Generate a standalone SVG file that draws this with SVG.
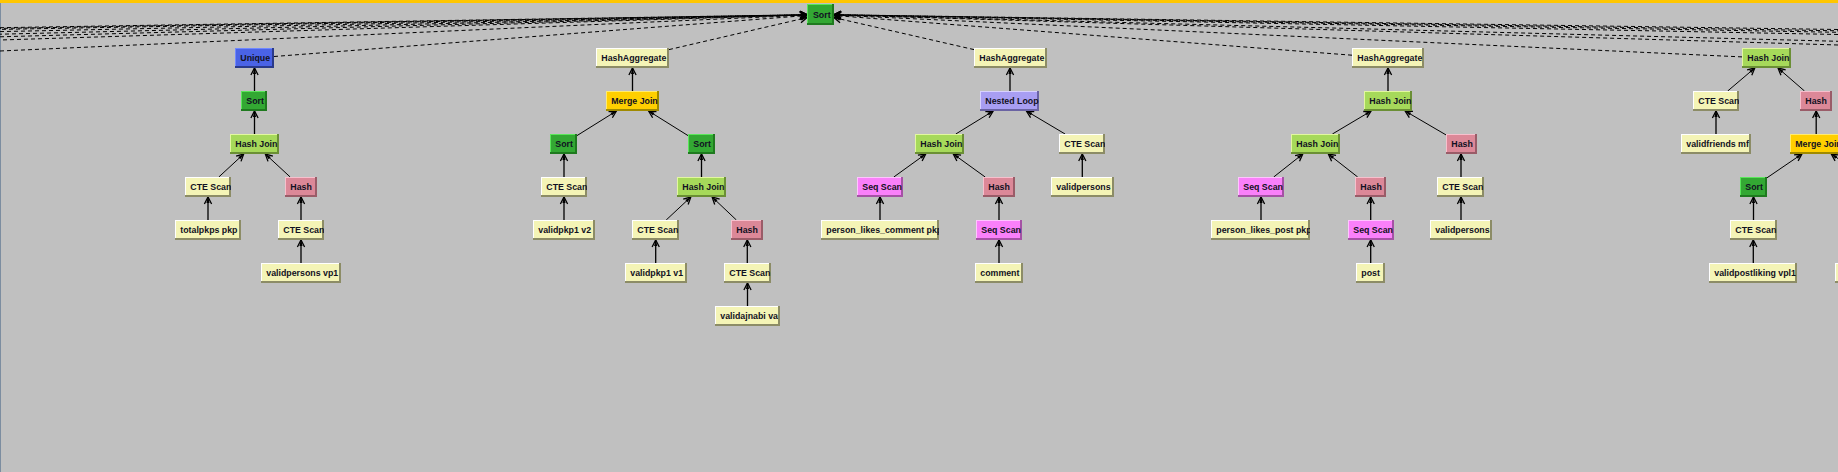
<svg xmlns="http://www.w3.org/2000/svg" width="1838" height="472" viewBox="0 0 1838 472">
<style>
text{font-family:"Liberation Sans",Arial,sans-serif;font-weight:bold;font-size:8.8px;fill:#111122}
.y .d{fill:#8c8c66}.y .l{fill:#ffffff}.y .f{fill:#f4f4b6}
.hj .d{fill:#6b8f35}.hj .l{fill:#e2f7a0}.hj .f{fill:#a6d95a}
.so .d{fill:#1f7a1f}.so .l{fill:#5ae65a}.so .f{fill:#33a833}
.un .d{fill:#2a3a8a}.un .l{fill:#7088ff}.un .f{fill:#4a63e6}
.ha .d{fill:#9a5c68}.ha .l{fill:#f7c0cd}.ha .f{fill:#dc8898}
.mj .d{fill:#a08a00}.mj .l{fill:#ffeb70}.mj .f{fill:#ffcf00}
.nl .d{fill:#6a63a3}.nl .l{fill:#d8d2ff}.nl .f{fill:#a89ef2}
.ss .d{fill:#a552a5}.ss .l{fill:#ffc4ff}.ss .f{fill:#fa80fa}
.e{stroke:#000;stroke-width:1.3;fill:none;marker-end:url(#ah)}
.g{stroke:#000;stroke-width:1;fill:none;marker-end:url(#ah)}
.r{stroke:#000;stroke-width:1;fill:none;stroke-dasharray:4 3;marker-end:url(#ah)}
</style>
<defs>
<marker id="ah" viewBox="-9 -5 10 10" refX="0" refY="0" markerWidth="10" markerHeight="10" markerUnits="userSpaceOnUse" orient="auto" overflow="visible">
<path d="M-7,-3.6 L0,0 L-7,3.6" fill="none" stroke="#000" stroke-width="1.3"/>
<path d="M-6,-1.6 L0,0 L-6,1.6 Z" fill="#000"/>
</marker>
</defs>
<rect x="0" y="0" width="1838" height="472" fill="#c0c0c0"/>
<rect x="0" y="0" width="1838" height="3" fill="#ffc600"/>
<rect x="0" y="3" width="1" height="469" fill="#7c8da0"/>

<g id="edges">
<!-- off-screen left children of root -->
<line class="r" x1="0" y1="27.7" x2="807" y2="14.7"/>
<line class="r" x1="0" y1="28.4" x2="807" y2="14.7" stroke-dashoffset="3"/>
<line class="r" x1="0" y1="29.4" x2="807" y2="14.8" stroke-dashoffset="5"/>
<line class="r" x1="0" y1="31.6" x2="807" y2="14.8"/>
<line class="r" x1="0" y1="34.2" x2="807" y2="14.8" stroke-dashoffset="2"/>
<line class="r" x1="0" y1="36.8" x2="807" y2="14.9"/>
<line class="r" x1="0" y1="40" x2="807" y2="14.9" stroke-dashoffset="4"/>
<line class="r" x1="0" y1="51" x2="807" y2="15.1"/>
<!-- off-screen right children of root -->
<line class="r" x1="1838" y1="29.5" x2="834" y2="14.7"/>
<line class="r" x1="1838" y1="30.8" x2="834" y2="14.7" stroke-dashoffset="3"/>
<line class="r" x1="1838" y1="32.3" x2="834" y2="14.7" stroke-dashoffset="5"/>
<line class="r" x1="1838" y1="34.5" x2="834" y2="14.8"/>
<line class="r" x1="1838" y1="41.3" x2="834" y2="14.9" stroke-dashoffset="2"/>
<line class="r" x1="1838" y1="45" x2="834" y2="14.9"/>
<!-- visible children of root -->
<line class="r" x1="274" y1="56.5" x2="807" y2="15.5"/>
<line class="r" x1="669" y1="49.6" x2="807" y2="17.6"/>
<line class="r" x1="974" y1="49.6" x2="834" y2="17.6"/>
<line class="r" x1="1352" y1="55.2" x2="834" y2="15.5"/>
<line class="r" x1="1742" y1="56.9" x2="834" y2="15.1"/>
<!-- tree 1 -->
<line class="e" x1="254.5" y1="91" x2="254.5" y2="68"/>
<line class="e" x1="254.5" y1="134" x2="254.5" y2="111"/>
<line class="g" x1="218.8" y1="177" x2="243.7" y2="154"/>
<line class="g" x1="290.2" y1="177" x2="265.3" y2="154"/>
<line class="e" x1="208" y1="220" x2="208" y2="197"/>
<line class="e" x1="301" y1="220" x2="301" y2="197"/>
<line class="e" x1="301" y1="263" x2="301" y2="240"/>
<!-- tree 2 -->
<line class="e" x1="632.5" y1="91" x2="632.5" y2="68"/>
<line class="g" x1="577" y1="135.6" x2="616.4" y2="111"/>
<line class="g" x1="688" y1="135.6" x2="648.6" y2="111"/>
<line class="e" x1="564" y1="177" x2="564" y2="154"/>
<line class="e" x1="701.5" y1="177" x2="701.5" y2="154"/>
<line class="e" x1="564" y1="220" x2="564" y2="197"/>
<line class="g" x1="666.2" y1="220" x2="690.8" y2="197"/>
<line class="g" x1="736.4" y1="220" x2="712.1" y2="197"/>
<line class="e" x1="655.7" y1="263" x2="655.7" y2="240"/>
<line class="e" x1="747.3" y1="263" x2="747.3" y2="240"/>
<line class="e" x1="747.5" y1="306" x2="747.5" y2="283"/>
<!-- tree 3 -->
<line class="e" x1="1010" y1="91" x2="1010" y2="68"/>
<line class="g" x1="955.8" y1="134" x2="993.2" y2="111"/>
<line class="g" x1="1065.1" y1="134" x2="1026.4" y2="111"/>
<line class="g" x1="893.8" y1="177" x2="925.7" y2="154"/>
<line class="g" x1="985.2" y1="177" x2="953.3" y2="154"/>
<line class="e" x1="1082.3" y1="177" x2="1082.3" y2="154"/>
<line class="e" x1="880" y1="220" x2="880" y2="197"/>
<line class="e" x1="999" y1="220" x2="999" y2="197"/>
<line class="e" x1="999" y1="263" x2="999" y2="240"/>
<!-- tree 4 -->
<line class="e" x1="1388" y1="91" x2="1388" y2="68"/>
<line class="g" x1="1332.4" y1="134" x2="1371.1" y2="111"/>
<line class="g" x1="1446" y1="134.9" x2="1405.1" y2="111"/>
<line class="g" x1="1273.7" y1="177" x2="1302.8" y2="154"/>
<line class="g" x1="1357.7" y1="177" x2="1328.3" y2="154"/>
<line class="e" x1="1461" y1="177" x2="1461" y2="154"/>
<line class="e" x1="1261" y1="220" x2="1261" y2="197"/>
<line class="e" x1="1370.7" y1="220" x2="1370.7" y2="197"/>
<line class="e" x1="1461" y1="220" x2="1461" y2="197"/>
<line class="e" x1="1370.7" y1="263" x2="1370.7" y2="240"/>
<!-- tree 5 -->
<line class="g" x1="1727.7" y1="91" x2="1754.8" y2="68"/>
<line class="g" x1="1804.5" y1="91" x2="1778" y2="68"/>
<line class="e" x1="1716" y1="134" x2="1716" y2="111"/>
<line class="e" x1="1816.2" y1="134" x2="1816.2" y2="111"/>
<line class="g" x1="1767" y1="177.8" x2="1801.9" y2="154"/>
<line class="g" x1="1850" y1="166.7" x2="1831.3" y2="154"/>
<line class="e" x1="1753.5" y1="220" x2="1753.5" y2="197"/>
<line class="e" x1="1753.3" y1="263" x2="1753.3" y2="240"/>
</g>

<g id="root-sort" class="so"><svg x="807" y="4" width="27" height="21"><rect class="d" width="27" height="21"/><rect class="l" width="25" height="19"/><rect class="f" x="1" y="1" width="24" height="18"/><text x="6" y="13.5">Sort</text></svg></g>

<g id="t1-unique" class="un"><svg x="235" y="48" width="39" height="20"><rect class="d" width="39" height="20"/><rect class="l" width="37" height="18"/><rect class="f" x="1" y="1" width="36" height="17"/><text x="5.3" y="12.5">Unique</text></svg></g>
<g id="t1-sort" class="so"><svg x="241" y="91" width="26" height="20"><rect class="d" width="26" height="20"/><rect class="l" width="24" height="18"/><rect class="f" x="1" y="1" width="23" height="17"/><text x="5.3" y="12.5">Sort</text></svg></g>
<g id="t1-hashjoin" class="hj"><svg x="230" y="134" width="49" height="20"><rect class="d" width="49" height="20"/><rect class="l" width="47" height="18"/><rect class="f" x="1" y="1" width="46" height="17"/><text x="5.3" y="12.5">Hash Join</text></svg></g>
<g id="t1-cte1" class="y"><svg x="185" y="177" width="46" height="20"><rect class="d" width="46" height="20"/><rect class="l" width="44" height="18"/><rect class="f" x="1" y="1" width="43" height="17"/><text x="5.3" y="12.5">CTE Scan</text></svg></g>
<g id="t1-hash" class="ha"><svg x="285" y="177" width="32" height="20"><rect class="d" width="32" height="20"/><rect class="l" width="30" height="18"/><rect class="f" x="1" y="1" width="29" height="17"/><text x="5.3" y="12.5">Hash</text></svg></g>
<g id="t1-totalpkps" class="y"><svg x="175" y="220" width="66" height="20"><rect class="d" width="66" height="20"/><rect class="l" width="64" height="18"/><rect class="f" x="1" y="1" width="63" height="17"/><text x="5.3" y="12.5">totalpkps pkp</text></svg></g>
<g id="t1-cte2" class="y"><svg x="278" y="220" width="46" height="20"><rect class="d" width="46" height="20"/><rect class="l" width="44" height="18"/><rect class="f" x="1" y="1" width="43" height="17"/><text x="5.3" y="12.5">CTE Scan</text></svg></g>
<g id="t1-validpersons" class="y"><svg x="261" y="263" width="80" height="20"><rect class="d" width="80" height="20"/><rect class="l" width="78" height="18"/><rect class="f" x="1" y="1" width="77" height="17"/><text x="5.3" y="12.5">validpersons vp1</text></svg></g>

<g id="t2-hashagg" class="y"><svg x="596" y="48" width="73" height="20"><rect class="d" width="73" height="20"/><rect class="l" width="71" height="18"/><rect class="f" x="1" y="1" width="70" height="17"/><text x="5.3" y="12.5">HashAggregate</text></svg></g>
<g id="t2-mergejoin" class="mj"><svg x="606" y="91" width="53" height="20"><rect class="d" width="53" height="20"/><rect class="l" width="51" height="18"/><rect class="f" x="1" y="1" width="50" height="17"/><text x="5.3" y="12.5">Merge Join</text></svg></g>
<g id="t2-sort1" class="so"><svg x="550" y="134" width="27" height="20"><rect class="d" width="27" height="20"/><rect class="l" width="25" height="18"/><rect class="f" x="1" y="1" width="24" height="17"/><text x="5.3" y="12.5">Sort</text></svg></g>
<g id="t2-sort2" class="so"><svg x="688" y="134" width="27" height="20"><rect class="d" width="27" height="20"/><rect class="l" width="25" height="18"/><rect class="f" x="1" y="1" width="24" height="17"/><text x="5.3" y="12.5">Sort</text></svg></g>
<g id="t2-cte1" class="y"><svg x="541" y="177" width="46" height="20"><rect class="d" width="46" height="20"/><rect class="l" width="44" height="18"/><rect class="f" x="1" y="1" width="43" height="17"/><text x="5.3" y="12.5">CTE Scan</text></svg></g>
<g id="t2-hashjoin" class="hj"><svg x="677" y="177" width="49" height="20"><rect class="d" width="49" height="20"/><rect class="l" width="47" height="18"/><rect class="f" x="1" y="1" width="46" height="17"/><text x="5.3" y="12.5">Hash Join</text></svg></g>
<g id="t2-validpkp1v2" class="y"><svg x="533" y="220" width="62" height="20"><rect class="d" width="62" height="20"/><rect class="l" width="60" height="18"/><rect class="f" x="1" y="1" width="59" height="17"/><text x="5.3" y="12.5">validpkp1 v2</text></svg></g>
<g id="t2-cte2" class="y"><svg x="632" y="220" width="47" height="20"><rect class="d" width="47" height="20"/><rect class="l" width="45" height="18"/><rect class="f" x="1" y="1" width="44" height="17"/><text x="5.3" y="12.5">CTE Scan</text></svg></g>
<g id="t2-hash" class="ha"><svg x="731" y="220" width="32" height="20"><rect class="d" width="32" height="20"/><rect class="l" width="30" height="18"/><rect class="f" x="1" y="1" width="29" height="17"/><text x="5.3" y="12.5">Hash</text></svg></g>
<g id="t2-validpkp1v1" class="y"><svg x="625" y="263" width="62" height="20"><rect class="d" width="62" height="20"/><rect class="l" width="60" height="18"/><rect class="f" x="1" y="1" width="59" height="17"/><text x="5.3" y="12.5">validpkp1 v1</text></svg></g>
<g id="t2-cte3" class="y"><svg x="724" y="263" width="47" height="20"><rect class="d" width="47" height="20"/><rect class="l" width="45" height="18"/><rect class="f" x="1" y="1" width="44" height="17"/><text x="5.3" y="12.5">CTE Scan</text></svg></g>
<g id="t2-validajnabi" class="y"><svg x="715" y="306" width="65" height="20"><rect class="d" width="65" height="20"/><rect class="l" width="63" height="18"/><rect class="f" x="1" y="1" width="62" height="17"/><text x="5.3" y="12.5">validajnabi va</text></svg></g>

<g id="t3-hashagg" class="y"><svg x="974" y="48" width="73" height="20"><rect class="d" width="73" height="20"/><rect class="l" width="71" height="18"/><rect class="f" x="1" y="1" width="70" height="17"/><text x="5.3" y="12.5">HashAggregate</text></svg></g>
<g id="t3-nestedloop" class="nl"><svg x="980" y="91" width="59" height="20"><rect class="d" width="59" height="20"/><rect class="l" width="57" height="18"/><rect class="f" x="1" y="1" width="56" height="17"/><text x="5.3" y="12.5">Nested Loop</text></svg></g>
<g id="t3-hashjoin" class="hj"><svg x="915" y="134" width="49" height="20"><rect class="d" width="49" height="20"/><rect class="l" width="47" height="18"/><rect class="f" x="1" y="1" width="46" height="17"/><text x="5.3" y="12.5">Hash Join</text></svg></g>
<g id="t3-cte" class="y"><svg x="1059" y="134" width="46" height="20"><rect class="d" width="46" height="20"/><rect class="l" width="44" height="18"/><rect class="f" x="1" y="1" width="43" height="17"/><text x="5.3" y="12.5">CTE Scan</text></svg></g>
<g id="t3-seqscan1" class="ss"><svg x="857" y="177" width="46" height="20"><rect class="d" width="46" height="20"/><rect class="l" width="44" height="18"/><rect class="f" x="1" y="1" width="43" height="17"/><text x="5.3" y="12.5">Seq Scan</text></svg></g>
<g id="t3-hash" class="ha"><svg x="983" y="177" width="32" height="20"><rect class="d" width="32" height="20"/><rect class="l" width="30" height="18"/><rect class="f" x="1" y="1" width="29" height="17"/><text x="5.3" y="12.5">Hash</text></svg></g>
<g id="t3-validpersons" class="y"><svg x="1051" y="177" width="63" height="20"><rect class="d" width="63" height="20"/><rect class="l" width="61" height="18"/><rect class="f" x="1" y="1" width="60" height="17"/><text x="5.3" y="12.5">validpersons</text></svg></g>
<g id="t3-plc" class="y"><svg x="821" y="220" width="118" height="20"><rect class="d" width="118" height="20"/><rect class="l" width="116" height="18"/><rect class="f" x="1" y="1" width="115" height="17"/><text x="5.3" y="12.5">person_likes_comment pkp</text></svg></g>
<g id="t3-seqscan2" class="ss"><svg x="976" y="220" width="46" height="20"><rect class="d" width="46" height="20"/><rect class="l" width="44" height="18"/><rect class="f" x="1" y="1" width="43" height="17"/><text x="5.3" y="12.5">Seq Scan</text></svg></g>
<g id="t3-comment" class="y"><svg x="975" y="263" width="48" height="20"><rect class="d" width="48" height="20"/><rect class="l" width="46" height="18"/><rect class="f" x="1" y="1" width="45" height="17"/><text x="5.3" y="12.5">comment</text></svg></g>

<g id="t4-hashagg" class="y"><svg x="1352" y="48" width="72" height="20"><rect class="d" width="72" height="20"/><rect class="l" width="70" height="18"/><rect class="f" x="1" y="1" width="69" height="17"/><text x="5.3" y="12.5">HashAggregate</text></svg></g>
<g id="t4-hashjoin1" class="hj"><svg x="1364" y="91" width="48" height="20"><rect class="d" width="48" height="20"/><rect class="l" width="46" height="18"/><rect class="f" x="1" y="1" width="45" height="17"/><text x="5.3" y="12.5">Hash Join</text></svg></g>
<g id="t4-hashjoin2" class="hj"><svg x="1291" y="134" width="49" height="20"><rect class="d" width="49" height="20"/><rect class="l" width="47" height="18"/><rect class="f" x="1" y="1" width="46" height="17"/><text x="5.3" y="12.5">Hash Join</text></svg></g>
<g id="t4-hash1" class="ha"><svg x="1446" y="134" width="31" height="20"><rect class="d" width="31" height="20"/><rect class="l" width="29" height="18"/><rect class="f" x="1" y="1" width="28" height="17"/><text x="5.3" y="12.5">Hash</text></svg></g>
<g id="t4-seqscan1" class="ss"><svg x="1238" y="177" width="46" height="20"><rect class="d" width="46" height="20"/><rect class="l" width="44" height="18"/><rect class="f" x="1" y="1" width="43" height="17"/><text x="5.3" y="12.5">Seq Scan</text></svg></g>
<g id="t4-hash2" class="ha"><svg x="1355" y="177" width="31" height="20"><rect class="d" width="31" height="20"/><rect class="l" width="29" height="18"/><rect class="f" x="1" y="1" width="28" height="17"/><text x="5.3" y="12.5">Hash</text></svg></g>
<g id="t4-cte" class="y"><svg x="1437" y="177" width="47" height="20"><rect class="d" width="47" height="20"/><rect class="l" width="45" height="18"/><rect class="f" x="1" y="1" width="44" height="17"/><text x="5.3" y="12.5">CTE Scan</text></svg></g>
<g id="t4-plp" class="y"><svg x="1211" y="220" width="99" height="20"><rect class="d" width="99" height="20"/><rect class="l" width="97" height="18"/><rect class="f" x="1" y="1" width="96" height="17"/><text x="5.3" y="12.5">person_likes_post pkp</text></svg></g>
<g id="t4-seqscan2" class="ss"><svg x="1348" y="220" width="46" height="20"><rect class="d" width="46" height="20"/><rect class="l" width="44" height="18"/><rect class="f" x="1" y="1" width="43" height="17"/><text x="5.3" y="12.5">Seq Scan</text></svg></g>
<g id="t4-validpersons" class="y"><svg x="1430" y="220" width="62" height="20"><rect class="d" width="62" height="20"/><rect class="l" width="60" height="18"/><rect class="f" x="1" y="1" width="59" height="17"/><text x="5.3" y="12.5">validpersons</text></svg></g>
<g id="t4-post" class="y"><svg x="1356" y="263" width="29" height="20"><rect class="d" width="29" height="20"/><rect class="l" width="27" height="18"/><rect class="f" x="1" y="1" width="26" height="17"/><text x="5.3" y="12.5">post</text></svg></g>

<g id="t5-hashjoin" class="hj"><svg x="1742" y="48" width="49" height="20"><rect class="d" width="49" height="20"/><rect class="l" width="47" height="18"/><rect class="f" x="1" y="1" width="46" height="17"/><text x="5.3" y="12.5">Hash Join</text></svg></g>
<g id="t5-cte1" class="y"><svg x="1693" y="91" width="46" height="20"><rect class="d" width="46" height="20"/><rect class="l" width="44" height="18"/><rect class="f" x="1" y="1" width="43" height="17"/><text x="5.3" y="12.5">CTE Scan</text></svg></g>
<g id="t5-hash" class="ha"><svg x="1800" y="91" width="32" height="20"><rect class="d" width="32" height="20"/><rect class="l" width="30" height="18"/><rect class="f" x="1" y="1" width="29" height="17"/><text x="5.3" y="12.5">Hash</text></svg></g>
<g id="t5-validfriends" class="y"><svg x="1681" y="134" width="70" height="20"><rect class="d" width="70" height="20"/><rect class="l" width="68" height="18"/><rect class="f" x="1" y="1" width="67" height="17"/><text x="5.3" y="12.5">validfriends mf</text></svg></g>
<g id="t5-mergejoin" class="mj"><svg x="1790" y="134" width="53" height="20"><rect class="d" width="53" height="20"/><rect class="l" width="51" height="18"/><rect class="f" x="1" y="1" width="50" height="17"/><text x="5.3" y="12.5">Merge Join</text></svg></g>
<g id="t5-sort" class="so"><svg x="1740" y="177" width="27" height="20"><rect class="d" width="27" height="20"/><rect class="l" width="25" height="18"/><rect class="f" x="1" y="1" width="24" height="17"/><text x="5.3" y="12.5">Sort</text></svg></g>
<g id="t5-cte2" class="y"><svg x="1730" y="220" width="47" height="20"><rect class="d" width="47" height="20"/><rect class="l" width="45" height="18"/><rect class="f" x="1" y="1" width="44" height="17"/><text x="5.3" y="12.5">CTE Scan</text></svg></g>
<g id="t5-validpostliking" class="y"><svg x="1709" y="263" width="88" height="20"><rect class="d" width="88" height="20"/><rect class="l" width="86" height="18"/><rect class="f" x="1" y="1" width="85" height="17"/><text x="5.3" y="12.5">validpostliking vpl1</text></svg></g>
<g id="t5-offscreen" class="y"><svg x="1835" y="263" width="60" height="20"><rect class="d" width="60" height="20"/><rect class="l" width="58" height="18"/><rect class="f" x="1" y="1" width="57" height="17"/></svg></g>
</svg>
